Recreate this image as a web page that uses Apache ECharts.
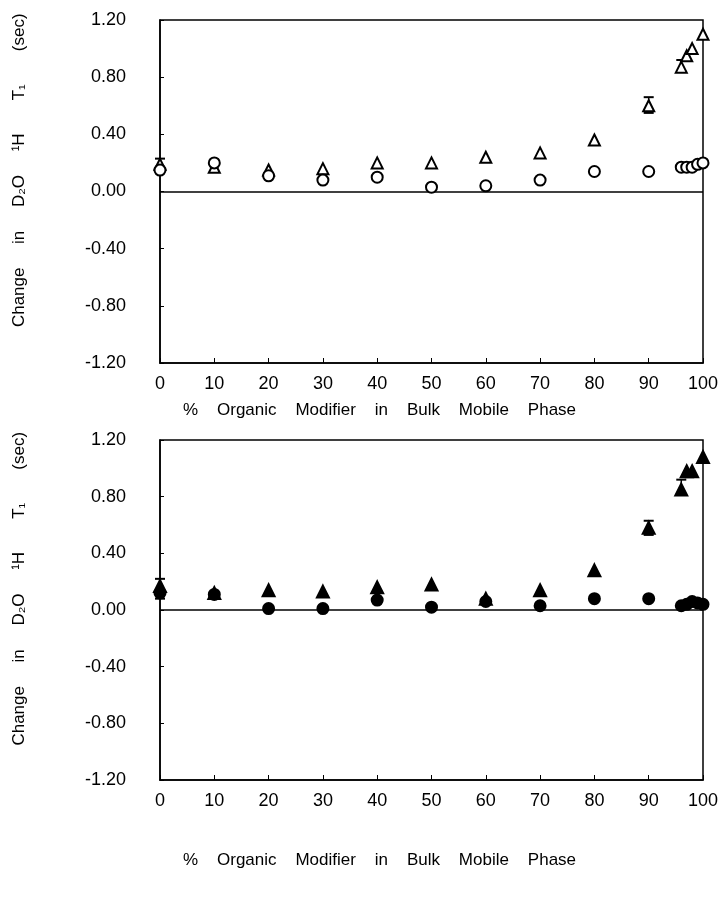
<!DOCTYPE html>
<html><head><meta charset="utf-8">
<script src="https://cdn.jsdelivr.net/npm/echarts@6/dist/echarts.min.js"></script>
<style>html,body{margin:0;padding:0;background:#fff}#c{width:723px;height:901px}</style>
</head><body><div id="c"></div>
<script>
// ---- data ----
const xTickValues = [0,10,20,30,40,50,60,70,80,90,100];
const yTickValues = [-1.2,-0.8,-0.4,0.0,0.4,0.8,1.2];

// Top panel (open symbols)
const topTriX = [0,10,20,30,40,50,60,70,80,90,96,97,98,100];
const topTriY = [0.19,0.17,0.15,0.16,0.20,0.20,0.24,0.27,0.36,0.60,0.87,0.95,1.00,1.10];
const topCirX = [0,10,20,30,40,50,60,70,80,90,96,97,98,99,100];
const topCirY = [0.15,0.20,0.11,0.08,0.10,0.03,0.04,0.08,0.14,0.14,0.17,0.17,0.17,0.19,0.20];
const topErrX = [0,90,96];
const topErrLo = [0.13,0.55,0.84];
const topErrHi = [0.23,0.66,0.92];

// Bottom panel (filled symbols)
const botTriX = [0,10,20,30,40,50,60,70,80,90,96,97,98,100];
const botTriY = [0.17,0.12,0.14,0.13,0.16,0.18,0.08,0.14,0.28,0.58,0.85,0.98,0.98,1.08];
const botCirX = [0,10,20,30,40,50,60,70,80,90,96,97,98,99,100];
const botCirY = [0.12,0.11,0.01,0.01,0.07,0.02,0.06,0.03,0.08,0.08,0.03,0.04,0.06,0.05,0.04];
const botErrX = [0,90,96];
const botErrLo = [0.08,0.53,0.82];
const botErrHi = [0.22,0.63,0.92];

const xAxisTitle = '%    Organic    Modifier    in    Bulk    Mobile    Phase';
const yAxisTitle = '         Change     in     D\u2082O     \u00B9H       T\u2081       (sec)';

// ---- chart ----
const FONT = 'Liberation Sans';
const pair = (xs, ys) => xs.map((x, i) => [x, ys[i]]);
const errData = (xs, lo, hi) => xs.map((x, i) => [x, lo[i], hi[i]]);

function errSeries(idx, data) {
  return {
    type: 'custom', xAxisIndex: idx, yAxisIndex: idx, data: data, z: 5,
    renderItem: function (params, api) {
      const x = api.value(0);
      const lo = api.coord([x, api.value(1)]);
      const hi = api.coord([x, api.value(2)]);
      const w = 5;
      return {
        type: 'group',
        children: [
          {type: 'line', shape: {x1: lo[0], y1: lo[1], x2: hi[0], y2: hi[1]}, style: {stroke: '#000', lineWidth: 1.5}},
          {type: 'line', shape: {x1: lo[0]-w, y1: lo[1], x2: lo[0]+w, y2: lo[1]}, style: {stroke: '#000', lineWidth: 2}},
          {type: 'line', shape: {x1: hi[0]-w, y1: hi[1], x2: hi[0]+w, y2: hi[1]}, style: {stroke: '#000', lineWidth: 2}}
        ]
      };
    }
  };
}

function xAx(idx) {
  return {
    type: 'value', gridIndex: idx, min: 0, max: 100, interval: 10,
    axisLine: {show: true, onZero: false, lineStyle: {color: '#000', width: 1.5}},
    axisTick: {show: true, inside: true, length: 5, lineStyle: {color: '#000'}},
    axisLabel: {fontFamily: FONT, fontSize: 18, color: '#000', margin: 12},
    splitLine: {show: false}
  };
}
function yAx(idx) {
  return {
    type: 'value', gridIndex: idx, min: -1.2, max: 1.2, interval: 0.4,
    name: yAxisTitle, nameLocation: 'middle', nameGap: 132, nameRotate: 90,
    nameTextStyle: {fontFamily: FONT, fontSize: 17, color: '#000'},
    axisLine: {show: true, onZero: false, lineStyle: {color: '#000', width: 1.5}},
    axisTick: {show: true, inside: true, length: 4, lineStyle: {color: '#000'}},
    axisLabel: {fontFamily: FONT, fontSize: 18, color: '#000', margin: 34,
      formatter: v => (Math.abs(v) < 1e-9 ? 0 : v).toFixed(2)},
    splitLine: {show: false}
  };
}
function zeroLine(idx) {
  return {
    type: 'line', xAxisIndex: idx, yAxisIndex: idx, data: [], silent: true,
    markLine: {symbol: 'none', silent: true, label: {show: false},
      lineStyle: {color: '#000', type: 'solid', width: 1.5}, data: [{yAxis: 0}]}
  };
}
function scat(idx, data, symbol, filled, size) {
  return {
    type: 'scatter', xAxisIndex: idx, yAxisIndex: idx, data: data, symbol: symbol, symbolSize: size,
    clip: false, z: 10,
    itemStyle: {color: filled ? '#000' : '#fff', borderColor: '#000', borderWidth: 2, opacity: 1}
  };
}

const titleStyle = {fontFamily: FONT, fontSize: 17, fontWeight: 'normal', color: '#000'};
const chart = echarts.init(document.getElementById('c'), null, {renderer: 'canvas'});
chart.setOption({
  backgroundColor: '#fff',
  animation: false,
  title: [
    {text: xAxisTitle, left: 183, top: 402, padding: 0, textStyle: titleStyle},
    {text: xAxisTitle, left: 183, top: 852, padding: 0, textStyle: titleStyle}
  ],
  grid: [
    {left: 160, right: 20, top: 20, height: 343, show: true, borderColor: '#000', borderWidth: 1.5, backgroundColor: 'transparent'},
    {left: 160, right: 20, top: 440, height: 340, show: true, borderColor: '#000', borderWidth: 1.5, backgroundColor: 'transparent'}
  ],
  xAxis: [xAx(0), xAx(1)],
  yAxis: [yAx(0), yAx(1)],
  series: [
    zeroLine(0), zeroLine(1),
    errSeries(0, errData(topErrX, topErrLo, topErrHi)),
    errSeries(1, errData(botErrX, botErrLo, botErrHi)),
    scat(0, pair(topTriX, topTriY), 'triangle', false, 11),
    scat(0, pair(topCirX, topCirY), 'circle', false, 11),
    scat(1, pair(botTriX, botTriY), 'triangle', true, 12),
    scat(1, pair(botCirX, botCirY), 'circle', true, 11)
  ]
});
</script></body></html>
